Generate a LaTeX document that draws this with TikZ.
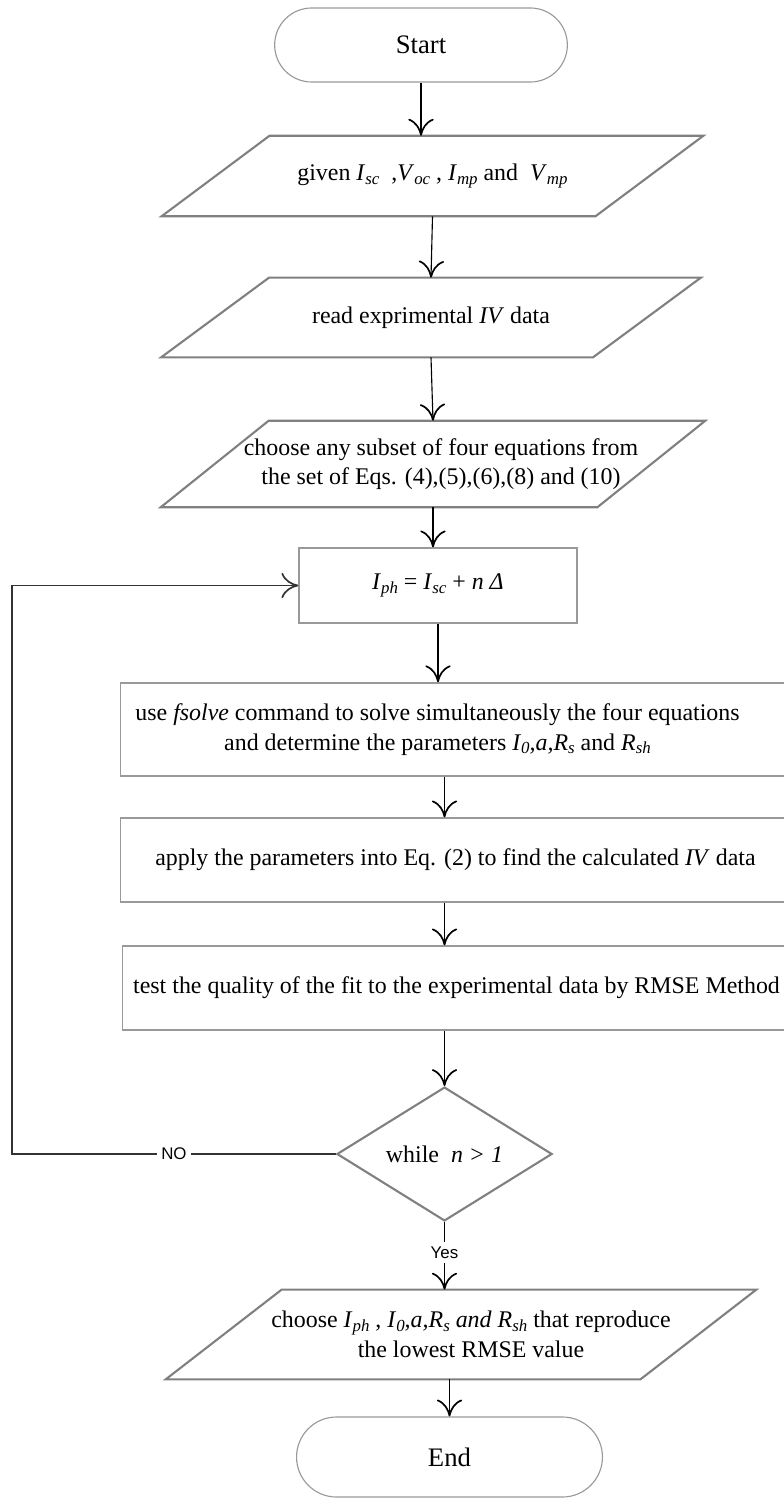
\documentclass[tikz,border=0pt]{standalone}
\usepackage{fontspec}
\setmainfont{Liberation Serif}
\setsansfont{Liberation Sans}
\usetikzlibrary{shapes.geometric,shapes.misc,arrows.meta,calc}
\newcommand{\isub}[2]{\textit{#1}\raisebox{-0.35ex}{\fontsize{12}{12}\selectfont\itshape #2}}

\begin{document}
\begin{tikzpicture}[x=0.025cm,y=-0.025cm,
  every node/.style={font=\fontsize{17}{21}\selectfont},
  term/.style={rounded rectangle, draw=gray!80, line width=0.8pt, font=\fontsize{19}{23}\selectfont},
  io/.style={align=center, inner sep=0pt},
  iobox/.style={draw=gray, line width=1.5pt},
  box/.style={rectangle, draw=gray!80, line width=0.9pt, align=center},
  test/.style={diamond, draw=gray, line width=1.5pt, inner sep=0pt},
  arr/.style={-{Computer Modern Rightarrow[length=12pt,width=18pt,line width=1.2pt]}, line width=0.8pt},
  yesno/.style={font=\sffamily\fontsize{12}{14}\selectfont, fill=white, inner sep=3pt}]
  \useasboundingbox (0,0) rectangle (783,1498);
  % shapes
  \node[term, minimum width=7.55cm, minimum height=1.85cm] (start) at (421,45) {Start};
  \node[io, minimum width=10.83cm, minimum height=2cm] (p1) at (432.5,176)
    {given \isub{I}{sc}~~,\isub{V}{oc}~, \isub{I}{mp} and~ \isub{V}{mp}};
  \node[io, minimum width=10.78cm, minimum height=1.98cm] (p2) at (431,317.5)
    {read exprimental \textit{IV} data};
  \node[io, minimum width=10.9cm, minimum height=2.15cm] (p3) at (433,464)
    {\hspace*{0.4cm}choose any subset of four equations from\\\hspace*{0.4cm}the set of Eqs. (4),(5),(6),(8) and (10)};
  \node[box, minimum width=6.95cm, minimum height=1.875cm] (iph) at (438,585.5)
    {\isub{I}{ph} = \isub{I}{sc} + \textit{n Δ}};
  \node[box, minimum width=16.73cm, minimum height=2.33cm] (fs) at (455.5,729.5)
    {use \textit{fsolve} command to solve simultaneously the four equations\hspace*{0.9cm}\\
     and determine the parameters \isub{I}{0}\textit{,a,}\isub{R}{s} and \isub{R}{sh}\hspace*{0.9cm}};
  \node[box, minimum width=16.73cm, minimum height=2.1cm] (ap) at (455.5,860)
    {apply the parameters into Eq. (2) to find the calculated \textit{IV} data};
  \node[box, minimum width=16.68cm, minimum height=2.1cm] (ts) at (456.5,988)
    {test the quality of the fit to the experimental data by RMSE Method};
  \node[test, minimum width=5.38cm, minimum height=2.98cm] (dia) at (444.5,1154)
    {while~~\textit{n > 1}};
  \node[io, minimum width=11.85cm, minimum height=2.23cm] (p4) at (461,1334.5)
    {\hspace*{0.5cm}choose \isub{I}{ph} , \isub{I}{0}\textit{,a,}\isub{R}{s} \textit{and} \isub{R}{sh} that reproduce\\\hspace*{0.5cm}the lowest RMSE value};
  \node[term, minimum width=7.88cm, minimum height=2cm] (end) at (449.5,1457) {End};
  \foreach \n/\s in {p1/54, p2/54, p3/54, p4/58}
    \draw[iobox] ($(\n.north west)+(\s,0)$) -- ($(\n.north east)+(\s,0)$)
      -- ($(\n.south east)-(\s,0)$) -- ($(\n.south west)-(\s,0)$) -- cycle;
  % arrows
  \coordinate (loop) at (12,0);
  \draw[arr] (start.south) -- (start.south |- p1.north);
  \draw[arr] (p1.south) -- (p2.north);
  \draw[arr] (p2.south) -- (p3.north);
  \draw[arr] (p3.south) -- (p3.south |- iph.north);
  \draw[arr] (iph.south) -- (iph.south |- fs.north);
  \draw[arr] (dia.north |- fs.south) -- (dia.north |- ap.north);
  \draw[arr] (dia.north |- ap.south) -- (dia.north |- ts.north);
  \draw[arr] (dia.north |- ts.south) -- (dia.north);
  \draw[arr] (dia.south) -- node[yesno, pos=0.45] {Yes} (dia.south |- p4.north);
  \draw[arr] (end.north |- p4.south) -- (end.north);
  \draw[arr, draw=black!80, line width=1pt] (dia.west) -- node[yesno] {NO} (dia.west -| loop) |- (iph.west);
\end{tikzpicture}
\end{document}
